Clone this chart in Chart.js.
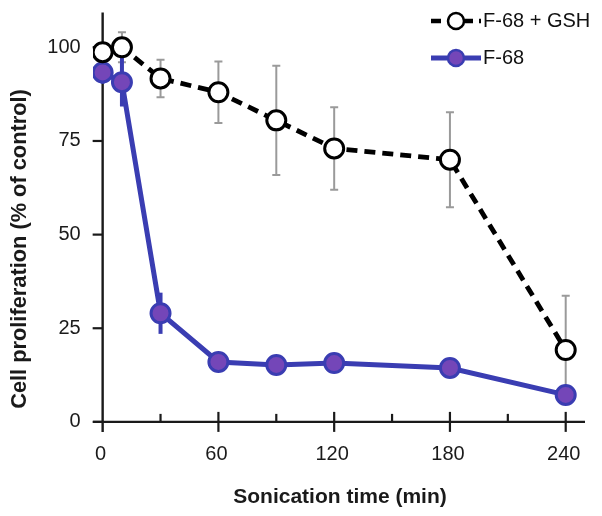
<!DOCTYPE html>
<html>
<head>
<meta charset="utf-8">
<script src="https://cdn.jsdelivr.net/npm/chart.js@4/dist/chart.umd.min.js"></script>
<style>
html,body{margin:0;padding:0;background:#fff;}
#wrap{width:602px;height:516px;position:relative;}
</style>
</head>
<body>
<div id="wrap"><canvas id="c" width="602" height="516"></canvas></div>
<script>
// ---- data ----
const times = [0, 10, 30, 60, 90, 120, 180, 240];
const gsh = [98.7, 100, 91.7, 88, 80.5, 73, 70, 19.2];
const gshErr = [0, 4, 5, 8.2, 14.6, 11, 12.7, 14.5];
const f68 = [93.3, 90.7, 29, 16, 15.2, 15.7, 14.4, 7.2];
const f68Err = [3, 6.5, 5.5, 1.2, 1, 1, 1, 1];
const xTicks = [0, 60, 120, 180, 240];
const xMinorTicks = [30, 90, 150, 210];
const yTicks = [0, 25, 50, 75, 100];
const seriesNames = ['F-68 + GSH', 'F-68'];
const xTitle = 'Sonication time (min)';
const yTitle = 'Cell proliferation (% of control)';

const BLUE = '#3a3db2';
const PURPLE = '#7446b8';
const FONT = '"Liberation Sans", Arial, Helvetica, sans-serif';

function pts(ys){ return times.map((t,i)=>({x:t,y:ys[i]})); }

const errorBars = {
  id:'errorBars',
  beforeDatasetsDraw(chart){
    const {ctx, scales:{x,y}} = chart;
    const sets = [
      {vals:gsh, err:gshErr, color:'#9a9a9a', w:2, cap:4},
      {vals:f68, err:f68Err, color:BLUE, w:4, cap:0}
    ];
    ctx.save();
    sets.forEach(s=>{
      ctx.strokeStyle = s.color; ctx.lineWidth = s.w;
      times.forEach((t,i)=>{
        if(!s.err[i]) return;
        const px = x.getPixelForValue(t);
        const top = y.getPixelForValue(s.vals[i]+s.err[i]);
        const bot = y.getPixelForValue(s.vals[i]-s.err[i]);
        ctx.beginPath(); ctx.moveTo(px,top); ctx.lineTo(px,bot); ctx.stroke();
        if(s.cap){
          ctx.beginPath();
          ctx.moveTo(px-s.cap,top); ctx.lineTo(px+s.cap,top);
          ctx.moveTo(px-s.cap,bot); ctx.lineTo(px+s.cap,bot);
          ctx.stroke();
        }
      });
    });
    ctx.restore();
  }
};

const axesPlugin = {
  id:'axesPlugin',
  beforeDatasetsDraw(chart){
    const {ctx, chartArea:a, scales:{x,y}} = chart;
    const x0 = x.getPixelForValue(0), y0 = y.getPixelForValue(0);
    ctx.save();
    ctx.strokeStyle = '#1a1a1a'; ctx.lineWidth = 2.4;
    ctx.beginPath();
    ctx.moveTo(x0, a.top); ctx.lineTo(x0, a.bottom);
    ctx.moveTo(a.left, y0); ctx.lineTo(a.right, y0);
    ctx.stroke();
    ctx.lineWidth = 2.2;
    yTicks.forEach(v=>{
      const py = y.getPixelForValue(v);
      ctx.beginPath(); ctx.moveTo(x0-10, py); ctx.lineTo(x0, py); ctx.stroke();
    });
    xTicks.forEach(v=>{
      if(v===0) return;
      const px = x.getPixelForValue(v);
      ctx.beginPath(); ctx.moveTo(px, y0-10); ctx.lineTo(px, y0+10); ctx.stroke();
    });
    xMinorTicks.forEach(v=>{
      const px = x.getPixelForValue(v);
      ctx.beginPath(); ctx.moveTo(px, y0-8); ctx.lineTo(px, y0); ctx.stroke();
    });
    ctx.fillStyle = '#1a1a1a';
    ctx.font = '20px ' + FONT;
    ctx.textAlign = 'right'; ctx.textBaseline = 'middle';
    yTicks.forEach(v=>{
      ctx.fillText(String(v), x0-22, y.getPixelForValue(v));
    });
    ctx.textAlign = 'center';
    xTicks.forEach(v=>{
      ctx.fillText(String(v), x.getPixelForValue(v)-2, y0+33);
    });
    ctx.font = 'bold 21px ' + FONT;
    ctx.fillText(xTitle, 340, 497);
    ctx.font = 'bold 21.8px ' + FONT;
    ctx.save();
    ctx.translate(20, 249);
    ctx.rotate(-Math.PI/2);
    ctx.fillText(yTitle, 0, 0);
    ctx.restore();
    ctx.restore();
  },
  afterDraw(chart){
    const {ctx} = chart;
    ctx.save();
    // legend row 1
    ctx.strokeStyle = '#000'; ctx.lineWidth = 4.5; ctx.setLineDash([10,6]);
    ctx.beginPath(); ctx.moveTo(431,21); ctx.lineTo(481,21); ctx.stroke();
    ctx.setLineDash([]);
    ctx.fillStyle = '#fff'; ctx.lineWidth = 2.5;
    ctx.beginPath(); ctx.arc(456,21,8,0,Math.PI*2); ctx.fill(); ctx.stroke();
    // legend row 2
    ctx.strokeStyle = BLUE; ctx.lineWidth = 5;
    ctx.beginPath(); ctx.moveTo(431,58); ctx.lineTo(481,58); ctx.stroke();
    ctx.fillStyle = PURPLE; ctx.lineWidth = 2.5;
    ctx.beginPath(); ctx.arc(456,58,8,0,Math.PI*2); ctx.fill(); ctx.stroke();
    ctx.fillStyle = '#111';
    ctx.font = '20px ' + FONT;
    ctx.textAlign = 'left'; ctx.textBaseline = 'middle';
    ctx.fillText(seriesNames[0], 483, 21);
    ctx.fillText(seriesNames[1], 483, 58);
    ctx.restore();
  }
};

new Chart(document.getElementById('c'), {
  type:'line',
  data:{
    datasets:[
      {
        label:seriesNames[0], data:pts(gsh),
        borderColor:'#000', borderWidth:4.8, borderDash:[11,7],
        pointRadius:9.5, pointBorderWidth:3,
        pointBackgroundColor:'#fff', pointBorderColor:'#000',
        tension:0, fill:false
      },
      {
        label:seriesNames[1], data:pts(f68),
        borderColor:BLUE, borderWidth:5,
        pointRadius:9.5, pointBorderWidth:3,
        pointBackgroundColor:PURPLE, pointBorderColor:BLUE,
        tension:0, fill:false
      }
    ]
  },
  options:{
    responsive:false, animation:false,
    layout:{padding:{left:93, right:17, top:12, bottom:84}},
    plugins:{legend:{display:false}, tooltip:{enabled:false}},
    scales:{
      x:{type:'linear', min:-5, max:250, display:false},
      y:{type:'linear', min:-2.7, max:109.3, display:false}
    }
  },
  plugins:[axesPlugin, errorBars]
});
</script>
</body>
</html>
